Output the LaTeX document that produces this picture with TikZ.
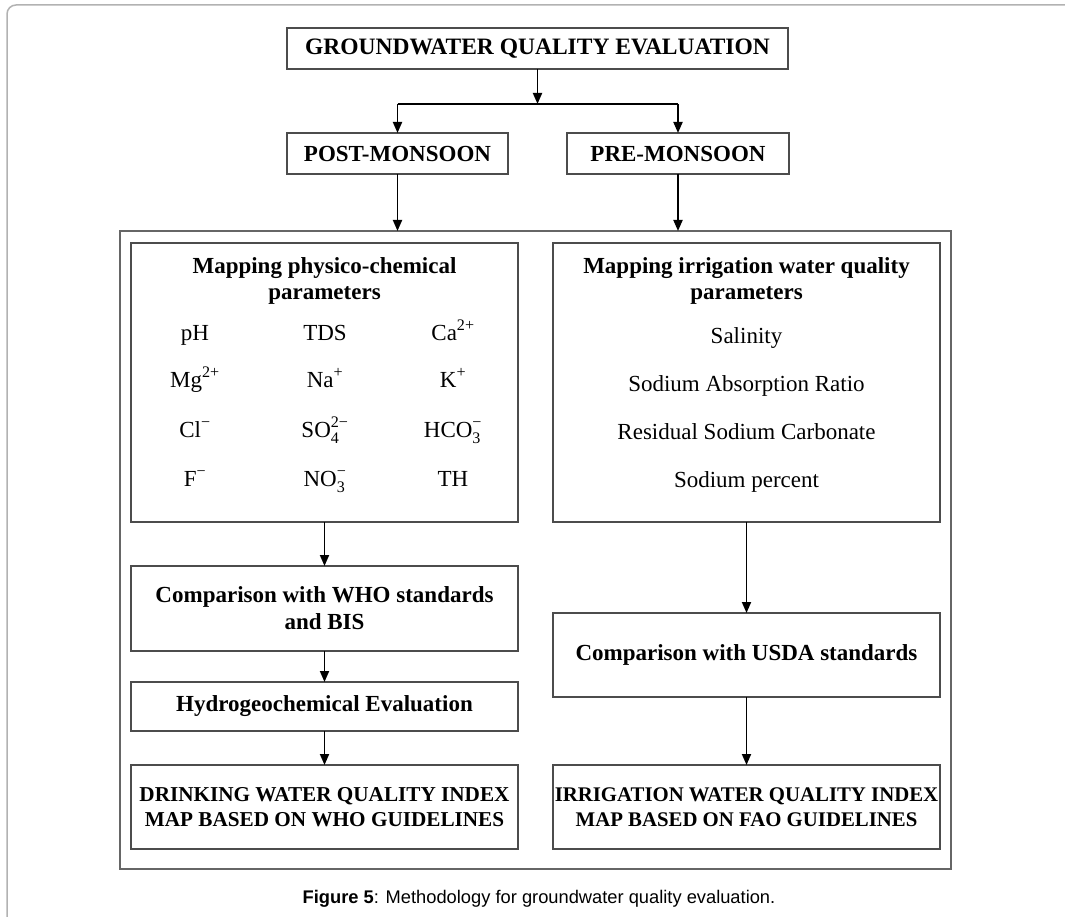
\documentclass[tikz,border=0pt]{standalone}
\usepackage{amsmath}
\usepackage{fontspec}
\setmainfont{Liberation Serif}
\newfontfamily\captionfont{Liberation Sans}
\usetikzlibrary{arrows.meta, positioning}

\begin{document}
\begin{tikzpicture}[
        x=1pt, y=-1pt,
        >={Triangle[length=11pt,width=9pt]},
        box/.style={
            draw=black!70,
            line width=1.6pt,
            rectangle,
            minimum width=387pt,
            inner sep=0pt,
            outer sep=0pt,
            align=center,
            font=\fontsize{23}{27}\selectfont\bfseries
        },
        headbox/.style={
            box,
            minimum height=41pt,
            font=\fontsize{23}{27}\selectfont\bfseries
        },
        outbox/.style={
            box,
            minimum height=84pt
        },
        head/.style={
            align=center,
            inner sep=0pt,
            font=\fontsize{23}{26}\selectfont\bfseries
        },
        param/.style={
            anchor=base,
            inner sep=0pt,
            font=\fontsize{23}{27}\selectfont
        },
        line/.style={draw, line width=2.2pt, -},
        line_arrow/.style={draw, line width=1.8pt, ->}
    ]

    \useasboundingbox (0,0) rectangle (1065,917);
    \clip (0,0) rectangle (1065,917);

    % Page frame
    \draw[black!30, line width=1.5pt, rounded corners=9pt] (7,5) rectangle (1200,1100);

    % Root
    \node[headbox, minimum width=501pt, font=\fontsize{23.5}{27}\selectfont\bfseries] (title) at (537.5,48.5) {GROUNDWATER QUALITY EVALUATION};

    % Seasons
    \node[headbox, minimum width=221pt] (post) at (397.5,153.5) {POST-MONSOON};
    \node[headbox, minimum width=222pt] (pre) at (678,153.5) {PRE-MONSOON};

    \coordinate (split) at (537.5,104);
    \draw[line_arrow] (title.south) -- (split);
    \draw[line] (post.north |- split) -- (pre.north |- split);
    \draw[line_arrow] (post.north |- split) -- (post.north);
    \draw[line_arrow] (pre.north |- split) -- (pre.north);

    % Frame
    \node[draw=black!60, line width=1.6pt, minimum width=831pt, minimum height=638pt,
        inner sep=0pt, outer sep=0pt] (frame) at (535.5,550) {};
    \draw[line_arrow] (post.south) -- (post.south |- frame.north);
    \draw[line_arrow] (pre.south) -- (pre.south |- frame.north);

    % Left — physico-chemical
    \node[box, minimum height=279pt] (chem_box) at (324.5,382.5) {};
    \node[head] (chem_head) at (324.5,281) {Mapping physico-chemical\\parameters};

    \node[param] (ph) at (195,340) {pH};
    \node[param] (tds) at (325,340) {TDS};
    \node[param] (ca) at (453,340) {Ca$^{\text{2+}}$};
    \node[param] (mg) at (195,387) {Mg$^{\text{2+}}$};
    \node[param] (na) at (325,387) {Na$^{\text{+}}$};
    \node[param] (k) at (453,387) {K$^{\text{+}}$};
    \node[param] (cl) at (195,437) {Cl$^{\text{−}}$};
    \node[param] (so) at (325,437) {SO$_{\text{4}}^{\text{2−}}$};
    \node[param] (hco) at (453,437) {HCO$_{\text{3}}^{\text{−}}$};
    \node[param] (f) at (195,486) {F$^{\text{−}}$};
    \node[param] (no) at (325,486) {NO$_{\text{3}}^{\text{−}}$};
    \node[param] (th) at (453,486) {TH};

    \node[box, minimum height=85pt, below=44pt of chem_box] (who) {Comparison with WHO standards\\and BIS};
    \node[box, minimum height=49pt, below=31pt of who] (hydro) {Hydrogeochemical Evaluation};
    \node[outbox, below=34pt of hydro, font=\fontsize{21.2}{25}\selectfont\bfseries] (dwqi) {DRINKING WATER QUALITY INDEX\\MAP BASED ON WHO GUIDELINES};

    \draw[line_arrow] (chem_box.south) -- (who.north);
    \draw[line_arrow] (who.south) -- (hydro.north);
    \draw[line_arrow] (hydro.south) -- (dwqi.north);

    % Right — irrigation
    \node[box, minimum height=279pt] (irr_box) at (746.5,382.5) {};
    \node[head] (irr_head) at (746.5,281) {Mapping irrigation water quality\\parameters};

    \node[param] (salinity) at (746.5,343) {Salinity};
    \node[param] (sar) at (746.5,391) {Sodium Absorption Ratio};
    \node[param] (rsc) at (746.5,439) {Residual Sodium Carbonate};
    \node[param] (sodium) at (746.5,487) {Sodium percent};

    \node[box, minimum height=84pt, below=91pt of irr_box] (usda) {Comparison with USDA standards};
    \node[outbox, below=68pt of usda, font=\fontsize{20.8}{25}\selectfont\bfseries] (iwqi) {IRRIGATION WATER QUALITY INDEX\\MAP BASED ON FAO GUIDELINES};

    \draw[line_arrow] (irr_box.south) -- (usda.north);
    \draw[line_arrow] (usda.south) -- (iwqi.north);

    % Caption
    \node[anchor=base, inner sep=0pt, font=\captionfont\fontsize{18.3}{22}\selectfont] (caption) at (539,903)
        {\textbf{Figure 5}: Methodology for groundwater quality evaluation.};

\end{tikzpicture}
\end{document}
